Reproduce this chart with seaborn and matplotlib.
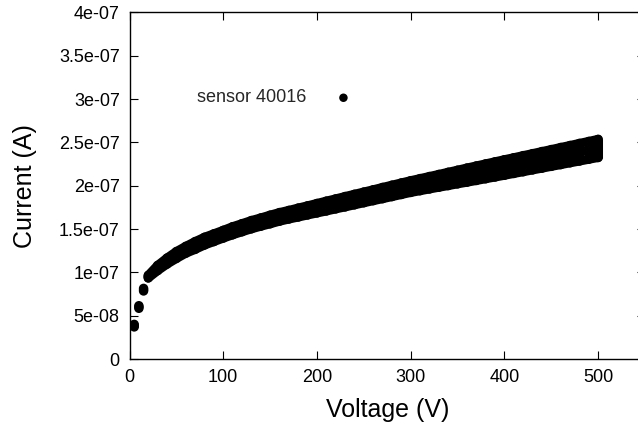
import matplotlib
matplotlib.use("Agg")
import matplotlib.pyplot as plt
import seaborn as sns
import pandas as pd

# ---- data (current in units of 1e-7 A) ----
voltage = [5, 10, 15, 20, 30, 40, 50, 60, 70, 80, 90, 100, 110, 120, 130, 140,
           150, 160, 170, 180, 190, 200, 210, 220, 230, 240, 250, 260, 270, 280,
           290, 300, 310, 320, 330, 340, 350, 360, 370, 380, 390, 400, 410, 420,
           430, 440, 450, 460, 470, 480, 490, 500]
current_mid = [0.385, 0.60, 0.80, 0.95, 1.05, 1.13, 1.20, 1.26, 1.31, 1.36, 1.40,
               1.44, 1.48, 1.515, 1.55, 1.58, 1.61, 1.64, 1.665, 1.69, 1.715, 1.74,
               1.765, 1.79, 1.815, 1.84, 1.865, 1.89, 1.915, 1.94, 1.965, 1.99,
               2.012, 2.034, 2.056, 2.078, 2.10, 2.122, 2.144, 2.166, 2.188, 2.21,
               2.232, 2.254, 2.276, 2.298, 2.32, 2.342, 2.364, 2.386, 2.408, 2.43]
current_low = [0.37, 0.585, 0.785, 0.935, 1.02, 1.095, 1.16, 1.22, 1.265, 1.315,
               1.355, 1.395, 1.433, 1.468, 1.502, 1.532, 1.56, 1.59, 1.615, 1.638,
               1.662, 1.685, 1.708, 1.732, 1.755, 1.779, 1.803, 1.827, 1.85, 1.874,
               1.898, 1.922, 1.942, 1.962, 1.982, 2.001, 2.021, 2.04, 2.06, 2.08,
               2.10, 2.12, 2.141, 2.161, 2.182, 2.202, 2.223, 2.243, 2.264, 2.284,
               2.305, 2.325]
current_high = [0.40, 0.615, 0.815, 0.965, 1.08, 1.165, 1.24, 1.30, 1.355, 1.405,
                1.445, 1.485, 1.527, 1.562, 1.598, 1.628, 1.66, 1.69, 1.715, 1.742,
                1.768, 1.795, 1.822, 1.848, 1.875, 1.901, 1.927, 1.953, 1.98, 2.006,
                2.032, 2.058, 2.082, 2.106, 2.13, 2.155, 2.179, 2.204, 2.228, 2.252,
                2.276, 2.30, 2.323, 2.347, 2.37, 2.394, 2.417, 2.441, 2.464, 2.488,
                2.511, 2.535]
scale = 1e-7
series_label = "sensor 40016"

x_ticks = [0, 100, 200, 300, 400, 500]
y_ticks = [0, 0.5e-7, 1e-7, 1.5e-7, 2e-7, 2.5e-7, 3e-7, 3.5e-7, 4e-7]
y_tick_labels = ["0", "5e-08", "1e-07", "1.5e-07", "2e-07", "2.5e-07",
                 "3e-07", "3.5e-07", "4e-07"]

sns.set_theme(style="white")
plt.rcParams["font.family"] = ["Liberation Sans", "DejaVu Sans"]

fig = plt.figure(figsize=(6.38, 4.24), dpi=100)
ax = fig.add_axes([0.203, 0.1533, 0.808, 0.8175])

df = pd.DataFrame({
    "Voltage": voltage * 3,
    "Current": [c * scale for c in current_low + current_mid + current_high],
})

sns.scatterplot(data=df, x="Voltage", y="Current", ax=ax, color="black",
                s=46, edgecolor="none", linewidth=0, label=series_label,
                zorder=3)

# dense rows of measurements: drawn as marker-wide strokes
for row in (current_low, current_mid, current_high):
    sns.lineplot(x=voltage[3:], y=[c * scale for c in row[3:]], ax=ax,
                 color="black", linewidth=6.5, sort=False, estimator=None,
                 legend=False, solid_capstyle="round",
                 solid_joinstyle="round", zorder=3)

# spread of the repeated measurements at each voltage (fills the band)
ax.vlines(voltage[4:], [c * scale for c in current_low[4:]],
          [c * scale for c in current_high[4:]], colors="black",
          linewidths=6.5, zorder=4)

ax.set_xlim(0, 550)
ax.set_ylim(0, 4e-7)
ax.set_xticks(x_ticks)
ax.set_xticklabels([str(t) for t in x_ticks])
ax.set_yticks(y_ticks)
ax.set_yticklabels(y_tick_labels)

for s in ax.spines.values():
    s.set_color("black")
    s.set_linewidth(1.0)
    s.set_visible(True)

ax.tick_params(axis="both", which="major", direction="in", length=6,
               width=0.8, color="black", labelsize=13, labelcolor="black",
               top=True, right=True, bottom=True, left=True, pad=7)

ax.set_xlabel("Voltage (V)", fontsize=18, color="black")
ax.set_ylabel("Current (A)", fontsize=18, color="black")
ax.xaxis.set_label_coords(0.5, -0.112)
ax.yaxis.set_label_coords(-0.18, 0.5)

leg = ax.legend(loc="center left", bbox_to_anchor=(0.131, 0.753),
                frameon=False, markerfirst=False, fontsize=13,
                handletextpad=1.05, borderpad=0, borderaxespad=0,
                markerscale=0.9)

fig.savefig("out.png", dpi=100)
